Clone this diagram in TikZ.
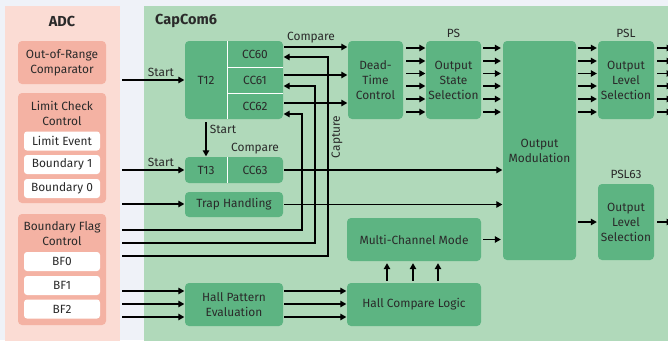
\documentclass[tikz,border=0pt]{standalone}
\usepackage{fontspec}
\setmainfont{Fira Sans}
\usetikzlibrary{arrows.meta}
\definecolor{bgc}{HTML}{EFF2F8}
\definecolor{adcbg}{HTML}{FBDCD4}
\definecolor{adcbox}{HTML}{F4B2A3}
\definecolor{ccbg}{HTML}{B0D9BA}
\definecolor{blkc}{HTML}{5DB482}
\definecolor{txt}{HTML}{2A2A2A}
\tikzset{
  every node/.style={text=txt, font=\fontsize{11.9}{15}\selectfont},
  blk/.style={fill=blkc, rounded corners=4pt, inner sep=0pt, align=center},
  abox/.style={fill=adcbox, rounded corners=4pt, inner sep=0pt, align=center, minimum width=88pt},
  wbox/.style={fill=white, rounded corners=3pt, inner sep=0pt, minimum width=76pt, minimum height=19pt},
  cell/.style={inner sep=0pt},
  lbl/.style={inner sep=0pt},
  ttl/.style={inner sep=0pt, font=\fontsize{14.5}{15}\selectfont\bfseries},
  ln/.style={draw=black, line width=1.2pt},
  arr/.style={ln, -{Triangle[length=6pt,width=6.5pt]}, shorten >=0.5pt},
  sep/.style={draw=white, line width=1pt},
}
\begin{document}
\begin{tikzpicture}[x=1pt,y=-1pt]
\useasboundingbox (0,0) rectangle (668,340);
\fill[bgc] (0,0) rectangle (668,340);
% panels
\fill[adcbg] (5,6) rectangle (120,345);
\fill[ccbg] (144,6) rectangle (675,345);
\node[ttl] (adct) at (62,21) {ADC};
\node[ttl, anchor=west] (cct) at (155,21) {CapCom6};

% ADC content
\node[abox, minimum height=43pt] (outr) at (62,62.5) {Out-of-Range\\Comparator};
\node[abox, minimum height=110pt] (lcc) at (62,148) {};
\node[lbl, align=center] (lcct) at (62,113) {Limit Check\\Control};
\node[wbox] (le) at (62,141) {Limit Event};
\node[wbox] (b1) at (62,164.5) {Boundary 1};
\node[wbox] (b0) at (62,188.5) {Boundary 0};
\node[abox, minimum height=111pt] (bfc) at (62,269.5) {};
\node[lbl, align=center] (bfct) at (62,233.5) {Boundary Flag\\Control};
\node[wbox] (bf0) at (62,261.5) {BF0};
\node[wbox] (bf1) at (62,285.5) {BF1};
\node[wbox] (bf2) at (62,309) {BF2};

% CapCom blocks
\node[blk, minimum width=98pt, minimum height=78pt] (t12blk) at (234,80) {};
\draw[sep] (227,41) -- (227,119);
\draw[sep] (227,67) -- (283,67);
\draw[sep] (227,93) -- (283,93);
\node[cell] (t12) at (206,80) {T12};
\node[cell] (cc60) at (255,54) {CC60};
\node[cell] (cc61) at (255,80) {CC61};
\node[cell] (cc62) at (255,106) {CC62};

\node[blk, minimum width=98pt, minimum height=26pt] (t13blk) at (234,170) {};
\draw[sep] (227,157) -- (227,183);
\node[cell] (t13) at (206,170) {T13};
\node[cell] (cc63) at (255,170) {CC63};

\node[blk, minimum width=98pt, minimum height=25pt] (trap) at (234,204.5) {Trap Handling};
\node[blk, minimum width=98pt, minimum height=43pt] (hpe) at (234,304.5) {Hall Pattern\\Evaluation};

\node[blk, minimum width=55pt, minimum height=78pt] (dtc) at (375.5,80) {Dead-\\Time\\Control};
\node[blk, minimum width=55pt, minimum height=78pt] (oss) at (453.5,80) {Output\\State\\Selection};
\node[blk, minimum width=73pt, minimum height=219pt] (om) at (539.5,150.5) {Output\\Modulation};
\node[blk, minimum width=56pt, minimum height=78pt] (psl) at (626,80) {Output\\Level\\Selection};
\node[blk, minimum width=56pt, minimum height=76pt] (psl63) at (626,222) {Output\\Level\\Selection};
\node[blk, minimum width=134pt, minimum height=43pt] (mcm) at (414,239.5) {Multi-Channel Mode};
\node[blk, minimum width=134pt, minimum height=43pt] (hcl) at (414,304.5) {Hall Compare Logic};

% labels
\node[lbl] (ps) at (453.5,33) {PS};
\node[lbl] (pslt) at (626,33) {PSL};
\node[lbl] (psl63t) at (626,174) {PSL63};
\node[lbl] (st1) at (161,72) {Start};
\node[lbl] (st2) at (161,162) {Start};
\node[lbl] (st3) at (223,129) {Start};
\node[lbl] (cmp1) at (311,38) {Compare};
\node[lbl] (cmp2) at (255,149) {Compare};
\node[lbl, rotate=90] (cap) at (337,137) {Capture};

% inputs from ADC
\coordinate (inA) at (122,80);
\coordinate (inB) at (122,170);
\coordinate (inC) at (122,204);
\coordinate (inD) at (122,230);
\coordinate (inE) at (122,243);
\coordinate (inF) at (122,256);
\coordinate (inG) at (122,291);
\coordinate (inH) at (122,304);
\coordinate (inI) at (122,317);

\draw[arr] (inA) -- (inA -| t12blk.west);
\draw[arr] (inB) -- (inB -| t13blk.west);
\draw[arr] (inC) -- (inC -| trap.west);
\draw[arr] (inD) -| (302,114) -- (t12blk.east |- 0,114);
\draw[arr] (inE) -| (315,86) -- (t12blk.east |- 0,86);
\draw[arr] (inF) -| (328,57) -- (t12blk.east |- 0,57);
\foreach \c in {inG,inH,inI} \draw[arr] (\c) -- (\c -| hpe.west);

% T12 start T13
\draw[arr] (t12 |- 0,122) -- (t12 |- t13blk.north);

% compare outputs
\foreach \y in {47,75,103} \draw[arr, shorten <=1pt] (t12blk.east |- 0,\y) -- (dtc.west |- 0,\y);
\draw[arr, shorten <=1pt] (t13blk.east) -- (om.west |- t13blk.east);
\draw[arr, shorten <=1pt] (trap.east) -- (om.west |- trap.east);

% six-channel buses
\foreach \y in {48,61,73.5,86,99,112} {
  \draw[arr, shorten <=3pt] (dtc.east |- 0,\y) -- (oss.west |- 0,\y);
  \draw[arr, shorten <=2pt, shorten >=2pt] (oss.east |- 0,\y) -- (om.west |- 0,\y);
  \draw[arr, shorten <=2pt, shorten >=1pt] (om.east |- 0,\y) -- (psl.west |- 0,\y);
  \draw[arr, shorten <=3pt] (psl.east |- 0,\y) -- (673,\y);
}
\draw[arr, shorten <=2pt, shorten >=1pt] (om.east |- psl63.west) -- (psl63.west);
\draw[arr, shorten <=3pt] (psl63.east) -- (673,222);
\draw[arr, shorten <=2pt, shorten >=2pt] (mcm.east) -- (om.west |- mcm.east);

% hall
\foreach \y in {291,304,317} \draw[arr, shorten <=1pt] (hpe.east |- 0,\y) -- (hcl.west |- 0,\y);
\foreach \x in {387,413,438} \draw[arr, shorten <=2pt, shorten >=2pt] (hcl.north -| \x,0) -- (mcm.south -| \x,0);
\end{tikzpicture}
\end{document}
